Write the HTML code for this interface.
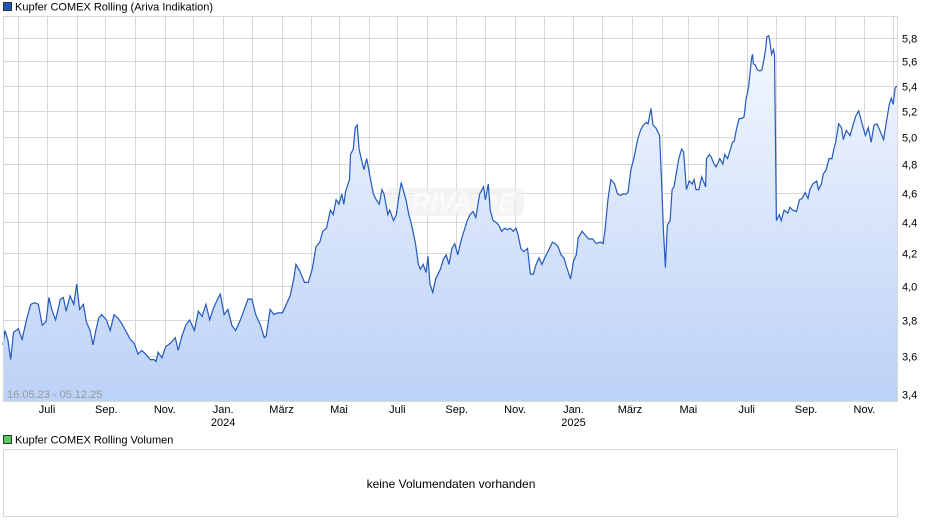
<!DOCTYPE html>
<html><head><meta charset="utf-8"><style>
body{margin:0;background:#fff;font-family:"Liberation Sans",Arial,sans-serif;}
svg text{font-family:"Liberation Sans",Arial,sans-serif;}
</style></head><body>
<svg id="chart" width="940" height="526" viewBox="0 0 940 526" xmlns="http://www.w3.org/2000/svg">
<defs><linearGradient id="fillg" x1="0" y1="0" x2="0" y2="1">
<stop offset="0" stop-color="#f4f8ff"/><stop offset="1" stop-color="#b8cff6"/></linearGradient></defs>
<rect x="3.5" y="2.5" width="8" height="8" fill="#1f56b8" stroke="#333" stroke-width="1"/>
<text x="15" y="10.5" font-size="11" fill="#000">Kupfer COMEX Rolling (Ariva Indikation)</text>
<g id="grid"></g>
<rect x="384" y="188" width="140" height="28" rx="6" fill="#f0f0f0" opacity="0.7"/>
<text x="454" y="211" font-size="26" font-weight="bold" font-style="italic" fill="#fafafa" text-anchor="middle">ARIVA.DE</text>
<path id="area" fill="url(#fillg)" opacity="0.95"/>
<path id="line" fill="none" stroke="#2459bd" stroke-width="1.2"/>
<rect x="3.5" y="16.5" width="894" height="385" fill="none" stroke="#d8d8d8"/>
<g id="yaxis"></g>
<g id="xaxis"></g>
<text x="7" y="398" font-size="11" fill="#999">16.05.23 - 05.12.25</text>
<rect x="3.5" y="435.5" width="8" height="8" fill="#5ccb5c" stroke="#333" stroke-width="1"/>
<text x="15" y="443.5" font-size="11" fill="#000">Kupfer COMEX Rolling Volumen</text>
<rect x="3.5" y="449.5" width="894" height="67" fill="#fff" stroke="#d8d8d8"/>
<text x="451" y="488" font-size="12" fill="#000" text-anchor="middle">keine Volumendaten vorhanden</text>
</svg>
<script>
const days=[0,2,5,8,11,16,20,25,29,33,37,41,45,48,51,55,60,63,66,70,74,77,80,84,87,91,94,97,100,103,108,112,116,120,124,129,133,137,141,145,149,154,158,160,162,166,170,175,180,183,187,191,195,200,204,208,212,216,220,225,227,231,235,239,243,248,252,256,260,264,269,273,275,279,283,287,292,296,300,304,306,310,315,319,323,327,331,334,338,342,345,348,351,354,356,358,362,363,366,368,370,372,375,377,380,384,387,390,393,396,398,400,402,404,408,411,413,416,418,421,424,427,431,434,436,439,442,444,446,449,452,457,460,463,466,469,472,475,479,482,485,488,491,494,498,502,504,507,509,512,515,518,521,524,527,530,533,536,538,541,544,548,551,554,557,560,563,566,571,574,577,580,583,586,589,593,596,599,601,605,609,612,616,620,624,627,629,632,635,639,642,645,648,651,653,656,659,663,666,669,672,674,677,679,682,686,688,690,692,694,697,699,701,704,706,709,711,714,717,720,722,724,727,730,734,735,738,740,743,745,749,752,754,757,760,762,764,766,769,771,774,775,776,779,780,782,783,784,786,788,791,793,795,797,798,800,801,803,805,806,808,811,813,816,820,822,825,829,832,835,838,841,843,846,850,852,855,857,860,863,866,868,870,873,876,878,881,885,888,891,894,898,901,904,907,910,913,916,920,923,926,928,930,932,934];
const prices=[3.66,3.74,3.69,3.58,3.73,3.75,3.69,3.81,3.89,3.90,3.89,3.77,3.79,3.93,3.86,3.80,3.92,3.93,3.85,3.94,3.89,4.01,3.86,3.89,3.79,3.74,3.66,3.74,3.81,3.83,3.80,3.74,3.83,3.81,3.78,3.73,3.69,3.67,3.61,3.63,3.61,3.58,3.58,3.57,3.62,3.59,3.65,3.67,3.70,3.63,3.71,3.77,3.80,3.74,3.85,3.82,3.89,3.80,3.87,3.93,3.95,3.83,3.86,3.77,3.74,3.80,3.86,3.92,3.92,3.83,3.77,3.70,3.71,3.86,3.83,3.84,3.84,3.89,3.94,4.05,4.13,4.09,4.02,4.02,4.10,4.24,4.27,4.34,4.36,4.48,4.45,4.55,4.52,4.59,4.52,4.61,4.69,4.87,4.91,5.07,5.09,4.91,4.82,4.76,4.84,4.69,4.59,4.55,4.52,4.62,4.59,4.52,4.45,4.48,4.41,4.45,4.55,4.67,4.62,4.55,4.45,4.38,4.26,4.13,4.10,4.13,4.08,4.18,4.01,3.96,4.04,4.10,4.16,4.19,4.13,4.23,4.26,4.19,4.29,4.35,4.41,4.45,4.47,4.43,4.59,4.64,4.55,4.66,4.48,4.41,4.40,4.38,4.34,4.36,4.35,4.36,4.34,4.36,4.32,4.23,4.21,4.23,4.07,4.07,4.13,4.17,4.13,4.17,4.23,4.27,4.26,4.24,4.19,4.17,4.11,4.04,4.15,4.19,4.30,4.34,4.31,4.29,4.29,4.26,4.27,4.26,4.35,4.55,4.69,4.66,4.59,4.58,4.59,4.59,4.60,4.76,4.84,4.98,5.05,5.09,5.11,5.10,5.22,5.09,5.07,5.01,4.69,4.35,4.11,4.38,4.41,4.62,4.64,4.76,4.84,4.91,4.89,4.62,4.68,4.66,4.69,4.62,4.62,4.71,4.64,4.84,4.87,4.85,4.80,4.78,4.84,4.80,4.87,4.84,4.91,4.96,4.97,5.05,5.14,5.14,5.15,5.20,5.28,5.39,5.47,5.62,5.66,5.58,5.57,5.53,5.52,5.53,5.62,5.72,5.81,5.82,5.78,5.66,5.70,5.66,4.41,4.45,4.41,4.48,4.46,4.50,4.48,4.47,4.55,4.56,4.60,4.56,4.62,4.66,4.68,4.62,4.66,4.73,4.76,4.84,4.84,4.91,4.96,5.10,5.07,4.98,5.05,5.01,5.09,5.16,5.20,5.09,5.01,5.07,4.96,5.09,5.10,5.05,4.98,5.12,5.25,5.30,5.25,5.38,5.40];
const yTicks=[3.4,3.6,3.8,4.0,4.2,4.4,4.6,4.8,5.0,5.2,5.4,5.6,5.8];
const monthDays=[16,46,77,107,138,169,199,230,260,291,322,351,382,412,443,473,504,535,565,596,626,657,688,716,747,777,808,838,869,900,930];
const monthLabels=[["Juli",46],["Sep.",108],["Nov.",169],["Jan.",230,"2024"],["März",291],["Mai",351],["Juli",412],["Sep.",474],["Nov.",535],["Jan.",596,"2025"],["März",655],["Mai",716],["Juli",777],["Sep.",839],["Nov.",900]];
const X0=3,X1=897,TOTAL=934,YB=394,PX=666.5;
const xs=d=>X0+d*(X1-X0)/TOTAL;
const ys=v=>YB-PX*(Math.log(v)-Math.log(3.4));
const NS="http://www.w3.org/2000/svg";
function mk(tag,attrs,parent){const e=document.createElementNS(NS,tag);for(const k in attrs)e.setAttribute(k,attrs[k]);parent.appendChild(e);return e;}
const grid=document.getElementById('grid'),ya=document.getElementById('yaxis'),xa=document.getElementById('xaxis');
yTicks.forEach(v=>{const y=Math.round(ys(v))+0.5;
 const l=mk('line',{x1:3,x2:898,y1:y,y2:y,stroke:'#d8d8d8'},grid);
 
 
 const t=mk('text',{x:902,y:y+4,'font-size':11,fill:'#000'},ya);
 
 
 t.textContent=v.toFixed(1).replace('.',',');});
monthDays.forEach(d=>{const x=Math.round(xs(d))+0.5;
 const l=mk('line',{x1:x,x2:x,y1:16,y2:402,stroke:'#d8d8d8'},grid);
 
 });
monthLabels.forEach(m=>{const x=xs(m[1]);
 const t=mk('text',{x:x,y:413,'font-size':11,fill:'#000','text-anchor':'middle'},xa);
 
 
 t.textContent=m[0];
 if(m[2]){const t2=mk('text',{x:x,y:426,'font-size':11,fill:'#000','text-anchor':'middle'},xa);
 
 
 t2.textContent=m[2];}});
let d='';days.forEach((dd,i)=>{d+=(i?'L':'M')+xs(dd).toFixed(1)+','+ys(prices[i]).toFixed(1);});
document.getElementById('line').setAttribute('d',d);
document.getElementById('area').setAttribute('d',d+'L'+xs(days[days.length-1]).toFixed(1)+',402L'+xs(0)+',402Z');
</script>
</body></html>
